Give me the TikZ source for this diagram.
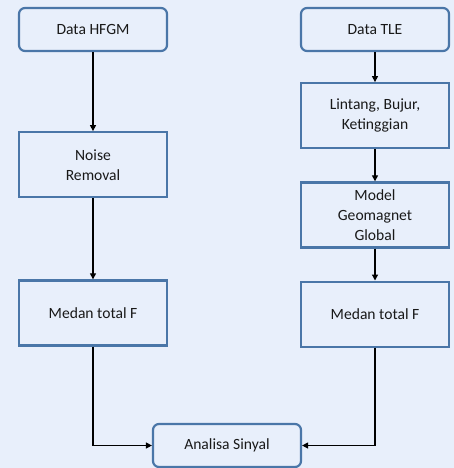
\documentclass[tikz,border=0pt]{standalone}
\usepackage{fontspec}
\setmainfont{Carlito}
\usetikzlibrary{positioning,arrows.meta}
\definecolor{bgblue}{HTML}{E8EFFB}
\definecolor{edgeblue}{HTML}{4A76A8}
\begin{document}
\begin{tikzpicture}[
  font=\fontsize{15.6}{20}\selectfont,
  box/.style={rectangle,draw=edgeblue,line width=2.2pt,text=black!90,
              minimum height=65pt,minimum width=148pt,align=center,inner sep=2pt},
  rbox/.style={box,rounded corners=6pt,minimum height=43pt},
  arr/.style={-{Triangle[length=6pt,width=6pt]},line width=1.3pt,black},
]
\useasboundingbox[fill=bgblue] (0,0) rectangle (454pt,-468pt);

% ---- HFGM branch ----
\node[rbox] (hfgm) at (93pt,-29.5pt) {Data HFGM};
\node[box,below=79pt of hfgm] (noise) {Noise\\Removal};
\node[box,below=81pt of noise] (medanL) {Medan total F};

% ---- TLE branch ----
\node[rbox] (tle) at (375pt,-29.5pt) {Data TLE};
\node[box,below=30pt of tle] (posisi) {Lintang, Bujur,\\Ketinggian};
\node[box,below=32pt of posisi] (model) {Model\\Geomagnet\\Global};
\node[box,below=32pt of model] (medanR) {Medan total F};

\node[rbox] (analisa) at (227pt,-445.5pt) {Analisa Sinyal};

\draw[arr] (hfgm)--(noise);
\draw[arr] (noise)--(medanL);
\draw[arr] (tle)--(posisi);
\draw[arr] (posisi)--(model);
\draw[arr] (model)--(medanR);
\draw[arr] (medanL.south) |- (analisa.west);
\draw[arr] (medanR.south) |- (analisa.east);
\end{tikzpicture}
\end{document}
